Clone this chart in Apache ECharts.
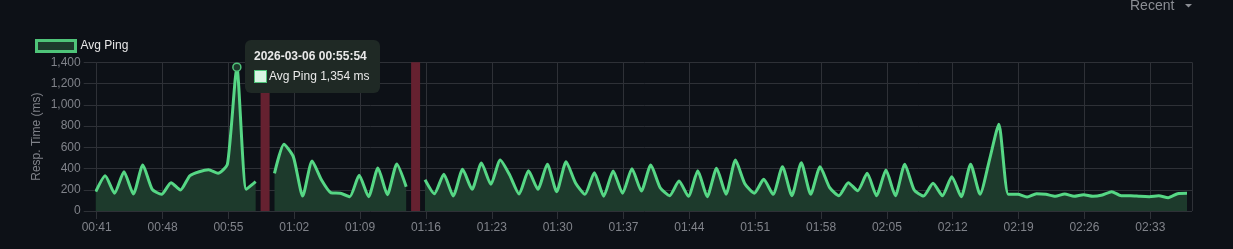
<!DOCTYPE html>
<html><head><meta charset="utf-8">
<script src="https://cdn.jsdelivr.net/npm/echarts@6/dist/echarts.min.js"></script>
<style>html,body{margin:0;padding:0;background:#0d1117;overflow:hidden}#c{width:1233px;height:249px}</style>
</head><body><div id="c"></div>
<script>
// ---------------- data ----------------
const seriesName = 'Avg Ping';
const day = '2026-03-06';
const times = [
 '00:40:54','00:41:54','00:42:54','00:43:54','00:44:54','00:45:54','00:46:54','00:47:54','00:48:54','00:49:54',
 '00:50:54','00:51:54','00:52:54','00:53:54','00:54:54','00:55:54','00:56:54','00:57:54','00:58:54','00:59:54',
 '01:00:54','01:01:54','01:02:54','01:03:54','01:04:54','01:05:54','01:06:54','01:07:54','01:08:54','01:09:54',
 '01:10:54','01:11:54','01:12:54','01:13:54','01:14:54','01:15:54','01:16:54','01:17:54','01:18:54','01:19:54',
 '01:20:54','01:21:54','01:22:54','01:23:54','01:24:54','01:25:54','01:26:54','01:27:54','01:28:54','01:29:54',
 '01:30:54','01:31:54','01:32:54','01:33:54','01:34:54','01:35:54','01:36:54','01:37:54','01:38:54','01:39:54',
 '01:40:54','01:41:54','01:42:54','01:43:54','01:44:54','01:45:54','01:46:54','01:47:54','01:48:54','01:49:54',
 '01:50:54','01:51:54','01:52:54','01:53:54','01:54:54','01:55:54','01:56:54','01:57:54','01:58:54','01:59:54',
 '02:00:54','02:01:54','02:02:54','02:03:54','02:04:54','02:05:54','02:06:54','02:07:54','02:08:54','02:09:54',
 '02:10:54','02:11:54','02:12:54','02:13:54','02:14:54','02:15:54','02:16:54','02:17:54','02:18:54','02:19:54',
 '02:20:54','02:21:54','02:22:54','02:23:54','02:24:54','02:25:54','02:26:54','02:27:54','02:28:54','02:29:54',
 '02:30:54','02:31:54','02:32:54','02:33:54','02:34:54','02:35:54','02:36:54'
];
const avgPing = [
 182, 332, 167, 370, 160, 433, 204, 157, 267, 198,
 332, 370, 388, 355, 442, 1354, 204, 276, null, 355,
 628, 512, 141, 471, 292, 172, 167, 135, 336, 135,
 405, 154, 442, 229, null, 295, 163, 346, 142, 392,
 204, 452, 251, 480, 339, 160, 378, 204, 441, 182,
 464, 264, 157, 361, 140, 377, 167, 398, 188, 433,
 219, 144, 283, 138, 378, 135, 402, 158, 480, 257,
 167, 298, 157, 417, 144, 455, 158, 417, 223, 144,
 267, 191, 355, 144, 386, 144, 440, 198, 141, 261,
 144, 323, 135, 440, 157, 480, 816, 157, 157, 132,
 163, 157, 138, 160, 138, 154, 138, 151, 182, 144,
 144, 138, 135, 144, 125, 163, 167
];
const downTimes = ['00:58:54', '01:14:54'];
const xAxisRange = ['00:41:00', '02:37:26'];
const xTickMinutes = 7;
const yAxisMin = 0, yAxisMax = 1400, yAxisStep = 200;
const yAxisTitle = 'Resp. Time (ms)';
const tipIndex = 15;
const rangeLabel = 'Recent';

// ---------------- chart ----------------
const FONT = "'Liberation Sans', Arial, Helvetica, sans-serif";
const toMs = t => Date.parse(day + 'T' + t + 'Z');
const pad = n => String(n).padStart(2, '0');
const hhmm = ms => { const d = new Date(ms); return pad(d.getUTCHours()) + ':' + pad(d.getUTCMinutes()); };
const hhmmss = ms => { const d = new Date(ms); return hhmm(ms) + ':' + pad(d.getUTCSeconds()); };
const fmtNum = v => Number(v).toLocaleString('en-US');

const lineData = times.map((t, i) => [toMs(t), avgPing[i] == null ? '-' : avgPing[i]]);
const downData = downTimes.map(t => [toMs(t), 1]);

const GRID = '#2e3137';
const LABEL = '#80838a';
const GREEN = '#4fc479';
const FILL = '#1d3a2c';

const tipHtml = function (v) {
  return '<div style="font:bold 12px ' + FONT + ';color:#e9e9e9;line-height:16px;margin-bottom:4px;white-space:nowrap">' +
    day + ' ' + hhmmss(v[0]) + '</div>' +
    '<div style="font:12px ' + FONT + ';color:#e9e9e9;line-height:16px;white-space:nowrap;display:flex;align-items:center">' +
    '<span style="display:inline-block;box-sizing:border-box;width:13px;height:13px;background:#d8f4e3;border:1.5px solid ' + GREEN + ';margin-right:2px"></span>' +
    seriesName + ' ' + fmtNum(v[1]) + ' ms</div>';
};

const chart = echarts.init(document.getElementById('c'), null, {renderer: 'canvas'});
chart.setOption({
  backgroundColor: '#0d1117',
  animation: false,
  textStyle: {fontFamily: FONT},
  grid: {left: 96.7, right: 41, top: 62.3, bottom: 38, containLabel: false},
  legend: {
    left: 35, top: 39, padding: 0, itemWidth: 39, itemHeight: 11, itemGap: 10,
    selectedMode: false,
    textStyle: {color: '#e8e8e8', fontSize: 12, fontFamily: FONT},
    data: [{name: seriesName, icon: 'rect',
      itemStyle: {color: FILL, borderColor: GREEN, borderWidth: 3}}]
  },
  tooltip: {
    trigger: 'axis',
    axisPointer: {type: 'none'},
    showDelay: 0, transitionDuration: 0, alwaysShowContent: true,
    backgroundColor: '#1f2925', borderWidth: 0, padding: [8, 10, 9, 9],
    extraCssText: 'box-shadow:none;border-radius:6px;',
    position: function () { return [245, 39.5]; },
    formatter: function (ps) {
      const arr = Array.isArray(ps) ? ps : [ps];
      const p = arr.find(q => q.seriesIndex === 0);
      return p ? tipHtml(p.value) : '';
    }
  },
  xAxis: {
    type: 'value',
    min: toMs(xAxisRange[0]), max: toMs(xAxisRange[1]),
    interval: xTickMinutes * 60000,
    axisLine: {show: false},
    axisTick: {show: true, length: 8, lineStyle: {color: GRID}},
    axisLabel: {color: LABEL, fontSize: 12, fontFamily: FONT, margin: 11, formatter: v => hhmm(v), showMaxLabel: false},
    splitLine: {show: true, lineStyle: {color: GRID, width: 1}}
  },
  yAxis: [{
    type: 'value', min: yAxisMin, max: yAxisMax, interval: yAxisStep,
    name: yAxisTitle, nameLocation: 'middle', nameGap: 54, nameRotate: 90, nameMoveOverlap: false,
    nameTextStyle: {color: LABEL, fontSize: 12, fontFamily: FONT},
    axisLine: {show: false},
    axisTick: {show: true, length: 13, lineStyle: {color: GRID}},
    axisLabel: {color: LABEL, fontSize: 12, fontFamily: FONT, margin: 16, formatter: v => fmtNum(v)},
    splitLine: {show: true, lineStyle: {color: GRID, width: 1}}
  }, {
    type: 'value', min: 0, max: 1, show: false
  }],
  series: [{
    name: seriesName, type: 'line', data: lineData,
    showSymbol: false, symbol: 'circle', symbolSize: 8,
    connectNulls: false, smooth: 0.2,
    lineStyle: {color: GREEN, width: 3, join: 'round'},
    itemStyle: {color: FILL, borderColor: GREEN, borderWidth: 1.5},
    areaStyle: {color: FILL, opacity: 1, origin: 'start'},
    emphasis: {scale: false, focus: 'none', lineStyle: {width: 3}, areaStyle: {color: FILL, opacity: 1}},
    z: 3
  }, {
    name: 'down', type: 'bar', yAxisIndex: 1, data: downData,
    barWidth: 9, itemStyle: {color: '#652130'},
    tooltip: {show: false}, silent: true, z: 2
  }],
  graphic: [
    {type: 'text', left: 1130, top: -1, silent: true,
     style: {text: rangeLabel, fill: '#8b8e94', font: '14px ' + FONT}},
    {type: 'polygon', silent: true,
     shape: {points: [[1185, 4], [1192, 4], [1188.5, 7.5]]}, style: {fill: '#8b8e94'}}
  ]
});
chart.dispatchAction({type: 'highlight', seriesIndex: 0, dataIndex: tipIndex});
chart.dispatchAction({type: 'showTip', seriesIndex: 0, dataIndex: tipIndex});
chart.dispatchAction({type: 'highlight', seriesIndex: 0, dataIndex: tipIndex});
</script>
</body></html>
